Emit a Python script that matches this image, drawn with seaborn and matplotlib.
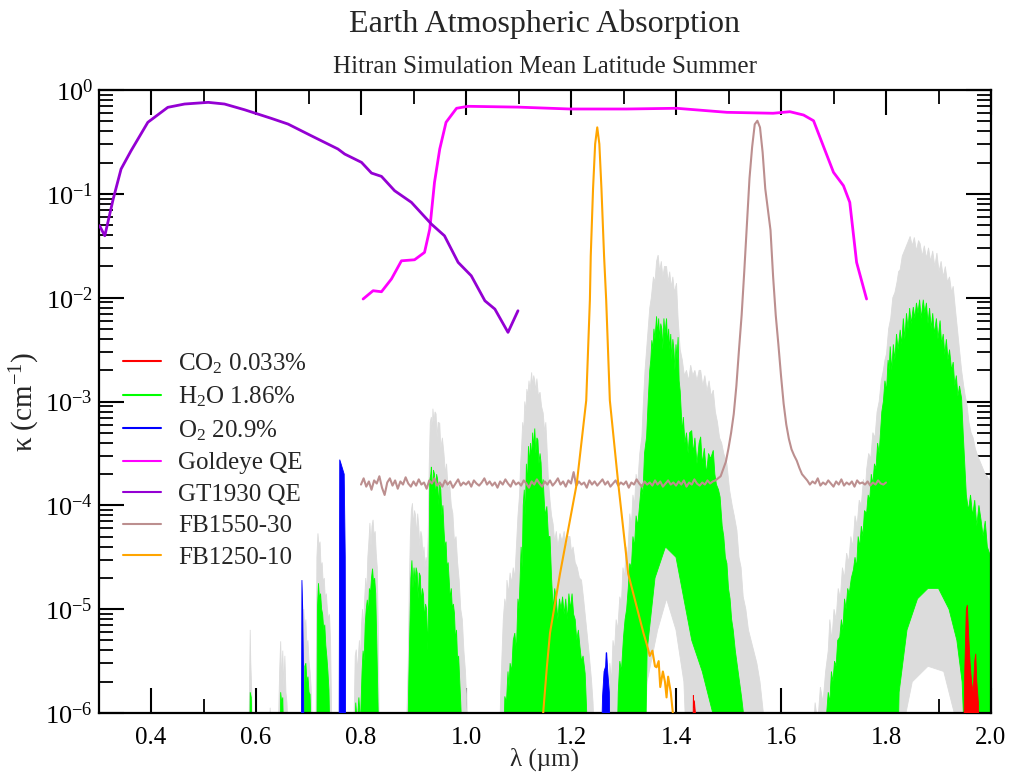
import numpy as np
import matplotlib
matplotlib.use("Agg")
import matplotlib.pyplot as plt
import seaborn as sns
from matplotlib.ticker import (MultipleLocator, LogLocator, FixedLocator, FormatStrFormatter,
                               NullFormatter, LogFormatterSciNotation)
from matplotlib.lines import Line2D

# ---------------- data (log10 of kappa) ----------------
# GT1930 QE
gt_x = [0.302, 0.312, 0.328, 0.343, 0.362, 0.394, 0.432, 0.464, 0.509, 0.540, 0.578, 0.629, 0.661,
        0.705, 0.756, 0.769, 0.801, 0.820, 0.839, 0.864, 0.896, 0.934, 0.959, 0.985, 1.010, 1.036,
        1.055, 1.080, 1.099]
gt_log = [-1.307, -1.404, -1.05, -0.761, -0.585, -0.311, -0.167, -0.135, -0.119, -0.135, -0.19, -0.273,
          -0.328, -0.44, -0.568, -0.617, -0.697, -0.80, -0.832, -0.97, -1.082, -1.291, -1.404, -1.66,
          -1.789, -2.03, -2.11, -2.334, -2.126]

# Goldeye QE
gold_x = [0.804, 0.823, 0.839, 0.858, 0.877, 0.902, 0.921, 0.931, 0.940, 0.950, 0.962, 0.982, 1.004,
          1.100, 1.198, 1.306, 1.401, 1.497, 1.585, 1.617, 1.643, 1.662, 1.700, 1.719, 1.731, 1.744, 1.763]
gold_log = [-2.013, -1.933, -1.943, -1.82, -1.645, -1.635, -1.564, -1.339, -0.889, -0.568, -0.311, -0.176,
            -0.157, -0.165, -0.183, -0.183, -0.176, -0.215, -0.224, -0.209, -0.241, -0.296, -0.793,
            -0.922, -1.082, -1.66, -2.013]

# FB1250-10
fb1250_x = [1.147, 1.154, 1.160, 1.179, 1.211, 1.229, 1.236, 1.2376, 1.242, 1.246, 1.250, 1.254, 1.258,
            1.263, 1.267, 1.274, 1.290, 1.309, 1.338, 1.345, 1.350, 1.355, 1.360, 1.363, 1.367, 1.370,
            1.375, 1.379, 1.382, 1.385, 1.390, 1.394]
fb1250_log = [-6.0, -5.56, -5.23, -4.66, -3.79, -2.99, -2.02, -1.6, -0.95, -0.52, -0.36, -0.52, -0.95,
              -1.6, -2.02, -2.99, -3.79, -4.66, -5.23, -5.35, -5.45, -5.40, -5.55, -5.56, -5.50, -5.75,
              -5.6, -5.7, -5.85, -5.65, -5.8, -6.0]

# FB1550-30 (sampled every 0.005 um from 0.800 to 1.800)
fb1550_start, fb1550_stop, fb1550_step = 0.800, 1.800, 0.005
fb1550_log = [
    -3.80, -3.74, -3.82, -3.77, -3.85, -3.76, -3.79, -3.72, -3.83, -3.90,
    -3.78, -3.74, -3.81, -3.76, -3.84, -3.77, -3.80, -3.73, -3.79, -3.82,
    -3.77, -3.81, -3.75, -3.80, -3.78, -3.84, -3.76, -3.79, -3.74, -3.81,
    -3.78, -3.82, -3.76, -3.80, -3.77, -3.83, -3.79, -3.75, -3.81, -3.78,
    -3.80, -3.77, -3.82, -3.76, -3.79, -3.81, -3.78, -3.74, -3.80, -3.77,
    -3.81, -3.78, -3.83, -3.77, -3.80, -3.75, -3.79, -3.82, -3.76, -3.80,
    -3.78, -3.81, -3.76, -3.79, -3.83, -3.77, -3.80, -3.75, -3.79, -3.82,
    -3.77, -3.80, -3.76, -3.81, -3.78, -3.74, -3.80, -3.77, -3.82, -3.76,
    -3.79, -3.68, -3.81, -3.77, -3.80, -3.78, -3.83, -3.76, -3.80, -3.77,
    -3.81, -3.78, -3.75, -3.80, -3.77, -3.82, -3.79, -3.76, -3.81, -3.78,
    -3.80, -3.77, -3.83, -3.78, -3.80, -3.75, -3.79, -3.82, -3.77, -3.80,
    -3.78, -3.81, -3.76, -3.80, -3.77, -3.82, -3.79, -3.76, -3.80, -3.78,
    -3.81, -3.77, -3.80, -3.76, -3.82, -3.78, -3.80, -3.75, -3.79, -3.81,
    -3.78, -3.80, -3.76, -3.79, -3.77, -3.76, -3.74,
    -3.72, -3.65, -3.58, -3.45, -3.30, -3.12, -2.85, -2.50, -2.17, -1.75,
    -1.30, -0.85, -0.55, -0.33, -0.296, -0.36, -0.60, -0.95, -1.15, -1.35,
    -1.80, -2.17, -2.45, -2.75, -3.02, -3.22, -3.36, -3.46, -3.52, -3.57,
    -3.64, -3.70, -3.73,
    -3.76, -3.80, -3.77, -3.79, -3.74, -3.81, -3.78, -3.80, -3.76, -3.79,
    -3.82, -3.77, -3.80, -3.75, -3.81, -3.78, -3.80, -3.77, -3.82, -3.76,
    -3.79, -3.78, -3.80, -3.77, -3.81, -3.78, -3.80, -3.76, -3.79, -3.80, -3.78]

# O2 20.9%
o2_x = [0.686, 0.6875, 0.689, 0.6905, 0.692, None,
        0.758, 0.7595, 0.762, 0.765, 0.768, 0.770, 0.771, None,
        1.255, 1.260, 1.263, 1.266, 1.267, 1.268, 1.270, 1.273, 1.276]
o2_log = [-7, -4.72, -5.0, -5.6, -7, None,
          -7, -3.56, -3.6, -3.65, -3.7, -4.5, -7, None,
          -7, -5.85, -5.6, -5.55, -5.42, -5.42, -5.6, -5.8, -7]

# CO2 0.033%
co2_x = [1.431, 1.433, 1.434, 1.435, 1.437, 1.439, None,
         1.946, 1.950, 1.953, 1.955, 1.957, 1.960, 1.963, 1.966, 1.969, 1.971, 1.973, 1.976, 1.979]
co2_log = [-7, -5.83, -5.95, -5.88, -6.0, -7, None,
           -7, -5.6, -5.0, -4.96, -5.2, -5.5, -5.7, -5.8, -5.5, -5.43, -5.7, -5.9, -7]

# H2O 1.86% bands: upper edge (x, log) and lower edge (x, log)
h2o_A_x = [0.588, 0.589, 0.591, 0.593]
h2o_A_log = [-6.3, -5.8, -5.85, -6.3]
h2o_B_x = [0.646, 0.647, 0.649, 0.651, 0.653]
h2o_B_log = [-6.3, -5.8, -5.9, -5.85, -6.3]
h2o_C_x = [0.691, 0.693, 0.695, 0.697, 0.699, 0.701, 0.703, 0.706]
h2o_C_log = [-6.3, -5.55, -5.52, -5.7, -5.65, -5.8, -5.82, -6.3]
h2o_D_x = [0.716, 0.717, 0.719, 0.721, 0.723, 0.725, 0.727, 0.729, 0.731, 0.733, 0.735, 0.737, 0.739, 0.741]
h2o_D_log = [-6.3, -5.0, -4.75, -4.9, -4.85, -5.0, -5.05, -5.2, -5.15, -5.35, -5.46, -5.6, -5.78, -6.3]
h2o_E_x = [0.788, 0.790, 0.793, 0.796, 0.799, 0.802, 0.804, 0.806, 0.808, 0.810, 0.812, 0.814, 0.816,
           0.818, 0.820, 0.822, 0.824, 0.826, 0.828, 0.830, 0.832, 0.834]
h2o_E_log = [-6.3, -5.9, -6.1, -5.85, -6.1, -5.6, -5.4, -5.5, -5.15, -5.0, -4.91, -5.05, -4.8,
             -4.85, -4.7, -4.61, -4.75, -4.7, -4.85, -5.3, -5.8, -6.3]
h2o_F_x = [0.889, 0.891, 0.893, 0.895, 0.897, 0.899, 0.901, 0.903, 0.905, 0.907, 0.909, 0.911, 0.913,
           0.915, 0.917, 0.919, 0.921, 0.923, 0.925, 0.927, 0.929, 0.931, 0.933, 0.934, 0.936, 0.938,
           0.940, 0.942, 0.944, 0.946, 0.948, 0.950, 0.952, 0.954, 0.956, 0.958, 0.960, 0.962, 0.964,
           0.966, 0.968, 0.970, 0.972, 0.974, 0.976, 0.978, 0.980, 0.982, 0.984, 0.986, 0.988, 0.990, 0.993]
h2o_F_log = [-6.3, -5.7, -5.2, -4.7, -4.53, -4.8, -4.6, -4.75, -4.6, -4.65, -4.9, -4.65, -4.68,
             -4.95, -4.8, -4.86, -5.1, -4.95, -5.0, -5.4, -4.9, -3.76, -3.7, -3.63, -3.9, -3.66,
             -3.7, -3.95, -3.7, -3.75, -4.0, -3.8, -3.85, -4.1, -4.0, -4.23, -4.4, -4.35, -4.6,
             -4.55, -4.72, -4.9, -4.8, -5.0, -4.95, -5.04, -5.3, -5.2, -5.5, -5.45, -5.68, -5.9, -6.3]
h2o_G_x = [1.072, 1.074, 1.077, 1.080, 1.082, 1.084, 1.087, 1.090, 1.093, 1.096, 1.099, 1.101, 1.103,
           1.105, 1.107, 1.109, 1.111, 1.113, 1.115, 1.117, 1.119, 1.121, 1.123, 1.125, 1.127, 1.129,
           1.131, 1.133, 1.135, 1.137, 1.139, 1.141, 1.143, 1.145, 1.147, 1.149, 1.151, 1.154, 1.157,
           1.160, 1.163, 1.166, 1.169, 1.172, 1.175, 1.178, 1.181, 1.184, 1.187, 1.190, 1.193, 1.196,
           1.199, 1.202, 1.205, 1.208, 1.211, 1.214, 1.217, 1.220, 1.223, 1.227, 1.230, 1.233]
h2o_G_log = [-6.3, -5.84, -5.9, -5.6, -5.75, -5.52, -5.6, -5.3, -5.23, -5.4, -4.9, -5.0, -4.72,
             -4.4, -4.6, -4.0, -3.85, -4.1, -3.6, -3.8, -3.43, -3.6, -3.4, -3.55, -3.3, -3.45,
             -3.26, -3.5, -3.35, -3.37, -3.6, -3.5, -3.59, -3.85, -3.75, -3.95, -4.1, -4.01, -4.3,
             -4.3, -4.7, -5.0, -4.8, -4.91, -5.1, -4.9, -5.0, -4.88, -5.05, -4.9, -5.1, -4.85,
             -5.0, -4.85, -5.05, -5.1, -5.3, -5.2, -5.36, -5.5, -5.45, -5.62, -6.0, -6.3]
h2o_H_x = [1.288, 1.290, 1.293, 1.296, 1.300, 1.303, 1.306, 1.309, 1.312, 1.315, 1.318, 1.321, 1.324,
           1.327, 1.331, 1.334, 1.337, 1.340, 1.344, 1.347, 1.350, 1.352, 1.354, 1.356, 1.358, 1.360,
           1.363, 1.365, 1.367, 1.369, 1.371, 1.373, 1.375, 1.377, 1.379, 1.382, 1.384, 1.386, 1.388,
           1.390, 1.392, 1.394, 1.396, 1.398, 1.400, 1.402, 1.404, 1.406, 1.408, 1.410, 1.412, 1.414,
           1.417, 1.420, 1.423, 1.426, 1.430, 1.433, 1.436, 1.440, 1.444, 1.447, 1.450, 1.454, 1.458,
           1.462, 1.466, 1.471, 1.474, 1.477, 1.481, 1.484, 1.488, 1.491, 1.494, 1.497, 1.500, 1.503,
           1.506, 1.509, 1.513, 1.517, 1.521, 1.525, 1.528, 1.531]
h2o_H_log = [-6.3, -5.8, -5.5, -5.6, -5.27, -5.1, -5.0, -4.8, -4.56, -4.6, -4.3, -4.4, -4.1,
             -4.2, -3.98, -3.8, -3.9, -3.5, -3.34, -3.0, -2.7, -2.6, -2.41, -2.5, -2.3, -2.4,
             -2.18, -2.35, -2.2, -2.4, -2.25, -2.3, -2.5, -2.2, -2.35, -2.2, -2.45, -2.3, -2.5,
             -2.35, -2.6, -2.4, -2.5, -2.7, -2.45, -2.6, -2.38, -2.8, -2.9, -3.1, -3.3, -3.15,
             -3.4, -3.3, -3.5, -3.3, -3.28, -3.5, -3.35, -3.6, -3.4, -3.34, -3.6, -3.45, -3.7,
             -3.5, -3.55, -3.47, -3.7, -3.8, -3.85, -3.92, -4.2, -4.3, -4.5, -4.56, -4.8, -4.9,
             -5.1, -5.2, -5.4, -5.55, -5.7, -5.85, -5.98, -6.3]
h2o_H_low_x = [1.531, 1.480, 1.470, 1.450, 1.430, 1.415, 1.400, 1.380, 1.360, 1.345, 1.340, 1.288]
h2o_H_low_log = [-7, -7, -6.0, -5.6, -5.3, -4.9, -4.5, -4.4, -4.7, -5.4, -7, -7]
h2o_I_x = [1.684, 1.687, 1.690, 1.693, 1.696, 1.699, 1.702, 1.705, 1.708, 1.712, 1.715, 1.718, 1.721,
           1.724, 1.727, 1.730, 1.734, 1.738, 1.741, 1.744, 1.747, 1.750, 1.753, 1.756, 1.759, 1.763,
           1.766, 1.769, 1.772, 1.775, 1.778, 1.781, 1.784, 1.787, 1.789, 1.792, 1.795, 1.798, 1.801,
           1.804, 1.806, 1.808, 1.811, 1.814, 1.817, 1.820, 1.823, 1.827, 1.830, 1.833, 1.836, 1.839,
           1.842, 1.845, 1.848, 1.852, 1.855, 1.858, 1.861, 1.864, 1.867, 1.871, 1.874, 1.877, 1.880,
           1.883, 1.886, 1.889, 1.892, 1.896, 1.899, 1.903, 1.906, 1.909, 1.912, 1.915, 1.918, 1.921,
           1.925, 1.928, 1.931, 1.934, 1.937, 1.940, 1.944, 1.947, 1.950, 1.953, 1.957, 1.961, 1.965,
           1.969, 1.973, 1.977, 1.981, 1.985, 1.989, 1.993, 1.997, 2.000]
h2o_I_log = [-6.3, -6.0, -5.8, -5.9, -5.6, -5.7, -5.5, -5.55, -5.3, -5.27, -5.1, -5.2, -4.9,
             -5.0, -4.8, -4.85, -4.7, -4.62, -4.5, -4.6, -4.3, -4.4, -4.2, -4.3, -4.05, -4.08,
             -3.9, -3.95, -3.7, -3.8, -3.6, -3.65, -3.4, -3.5, -3.34, -3.1, -3.0, -2.8, -2.9,
             -2.6, -2.7, -2.47, -2.7, -2.45, -2.6, -2.35, -2.5, -2.31, -2.45, -2.2, -2.4, -2.15,
             -2.3, -2.1, -2.25, -2.09, -2.2, -2.05, -2.15, -2.02, -2.2, -2.02, -2.15, -2.05, -2.25,
             -2.1, -2.3, -2.15, -2.35, -2.2, -2.4, -2.22, -2.45, -2.35, -2.55, -2.4, -2.6, -2.5,
             -2.7, -2.62, -2.85, -2.75, -2.95, -2.85, -2.97, -3.3, -3.6, -3.9, -4.05, -3.9, -4.1,
             -3.95, -4.2, -4.0, -4.14, -4.3, -4.15, -4.4, -4.46, -4.5]
h2o_I_low_x = [2.000, 1.955, 1.945, 1.935, 1.920, 1.900, 1.880, 1.860, 1.840, 1.825, 1.820, 1.684]
h2o_I_low_log = [-7, -7, -5.7, -5.3, -5.0, -4.8, -4.8, -4.9, -5.2, -5.8, -7, -7]

# grey (total) absorption bands
grey_A_x = [0.586, 0.588, 0.589, 0.590, 0.592, 0.594, 0.625, 0.627, 0.629]
grey_A_log = [-6.5, -5.6, -5.2, -5.5, -5.8, -6.5, -6.5, -5.95, -6.5]
grey_B_x = [0.642, 0.645, 0.647, 0.649, 0.651, 0.653, 0.655, 0.657, 0.659, 0.662]
grey_B_log = [-6.3, -5.6, -5.31, -5.7, -5.4, -5.75, -5.45, -5.8, -5.9, -6.3]
grey_C_x = [0.689, 0.691, 0.693, 0.695, 0.697, 0.699, 0.701, 0.703, 0.705, 0.708]
grey_C_log = [-6.3, -5.0, -5.2, -5.1, -5.35, -5.3, -5.5, -5.6, -5.75, -6.3]
grey_D_x = [0.714, 0.716, 0.718, 0.720, 0.722, 0.724, 0.726, 0.728, 0.730, 0.732, 0.734, 0.736, 0.738,
            0.740, 0.742, 0.745]
grey_D_log = [-6.3, -4.5, -4.27, -4.4, -4.35, -4.6, -4.55, -4.75, -4.7, -4.9, -4.85, -5.0, -5.1,
              -5.05, -5.3, -6.3]
grey_E_x = [0.786, 0.789, 0.791, 0.793, 0.795, 0.797, 0.799, 0.801, 0.803, 0.805, 0.807, 0.809, 0.811,
            0.813, 0.815, 0.817, 0.819, 0.821, 0.823, 0.825, 0.827, 0.829, 0.831, 0.833, 0.835]
grey_E_log = [-6.3, -5.45, -5.39, -5.6, -5.45, -5.3, -5.5, -5.15, -5.0, -5.2, -4.9, -4.7, -4.85,
              -4.5, -4.35, -4.17, -4.4, -4.2, -4.14, -4.3, -4.25, -4.46, -4.6, -5.2, -6.3]
grey_F_x = [0.886, 0.888, 0.890, 0.892, 0.894, 0.896, 0.898, 0.900, 0.902, 0.904, 0.906, 0.908, 0.910,
            0.912, 0.914, 0.916, 0.918, 0.920, 0.922, 0.924, 0.926, 0.928, 0.930, 0.932, 0.934, 0.936,
            0.937, 0.939, 0.941, 0.943, 0.945, 0.947, 0.950, 0.952, 0.955, 0.958, 0.961, 0.963, 0.966,
            0.969, 0.972, 0.975, 0.978, 0.981, 0.984, 0.987, 0.990, 0.993, 0.996, 0.999, 1.001, 1.004]
grey_F_log = [-6.3, -5.9, -5.52, -4.8, -4.3, -4.05, -3.98, -4.2, -4.05, -4.1, -4.3, -4.08, -4.2,
              -4.4, -4.25, -4.3, -4.5, -4.4, -4.6, -4.5, -4.6, -4.3, -3.6, -3.2, -3.15, -3.3,
              -3.07, -3.2, -3.1, -3.12, -3.35, -3.2, -3.21, -3.45, -3.35, -3.5, -3.7, -3.6, -3.85,
              -3.8, -4.0, -4.08, -4.35, -4.3, -4.55, -4.72, -5.0, -5.1, -5.4, -5.6, -5.84, -6.3]
grey_G_x = [1.064, 1.066, 1.068, 1.071, 1.074, 1.077, 1.078, 1.081, 1.084, 1.087, 1.090, 1.093, 1.096,
            1.099, 1.102, 1.104, 1.106, 1.108, 1.110, 1.112, 1.114, 1.116, 1.118, 1.120, 1.122, 1.125,
            1.127, 1.129, 1.131, 1.133, 1.135, 1.138, 1.141, 1.144, 1.147, 1.150, 1.152, 1.154, 1.157,
            1.160, 1.163, 1.166, 1.169, 1.172, 1.175, 1.179, 1.183, 1.187, 1.191, 1.195, 1.198, 1.201,
            1.204, 1.208, 1.212, 1.216, 1.220, 1.224, 1.227, 1.230, 1.234, 1.239, 1.242, 1.245]
grey_G_log = [-6.3, -5.8, -5.52, -5.1, -4.9, -5.0, -4.72, -4.85, -4.65, -4.75, -4.6, -4.7, -4.4,
              -4.1, -3.9, -3.6, -3.43, -3.2, -3.3, -3.0, -3.1, -2.88, -2.95, -2.8, -2.9, -2.72,
              -2.85, -2.75, -2.8, -2.9, -2.78, -2.95, -2.91, -3.05, -3.11, -3.3, -3.2, -3.4, -3.76,
              -3.95, -4.1, -4.18, -4.35, -4.25, -4.4, -4.27, -4.35, -4.25, -4.4, -4.3, -4.3, -4.45,
              -4.4, -4.55, -4.6, -4.7, -4.72, -4.9, -5.05, -5.2, -5.4, -5.68, -5.9, -6.3]
grey_H_x = [1.272, 1.274, 1.277, 1.280, 1.283, 1.286, 1.289, 1.293, 1.296, 1.299, 1.302, 1.305, 1.308,
            1.312, 1.315, 1.318, 1.321, 1.324, 1.327, 1.331, 1.335, 1.338, 1.341, 1.344, 1.347, 1.350,
            1.353, 1.357, 1.360, 1.363, 1.366, 1.369, 1.372, 1.375, 1.378, 1.382, 1.385, 1.388, 1.391,
            1.394, 1.397, 1.401, 1.404, 1.408, 1.412, 1.416, 1.420, 1.424, 1.428, 1.432, 1.436, 1.440,
            1.444, 1.447, 1.451, 1.455, 1.459, 1.463, 1.467, 1.471, 1.475, 1.479, 1.483, 1.487, 1.491,
            1.497, 1.502, 1.507, 1.511, 1.516, 1.520, 1.524, 1.528, 1.533, 1.538, 1.543, 1.548, 1.554,
            1.560, 1.566, 1.570]
grey_H_log = [-6.3, -5.52, -5.7, -5.3, -5.4, -5.1, -5.2, -4.88, -4.95, -4.6, -4.7, -4.4, -4.5,
              -4.08, -4.2, -3.9, -4.0, -3.7, -3.8, -3.5, -3.34, -3.0, -2.7, -2.5, -2.3, -2.1,
              -2.0, -1.80, -1.85, -1.65, -1.59, -1.75, -1.65, -1.8, -1.7, -1.7, -1.85, -1.75, -1.9,
              -1.8, -1.95, -1.86, -2.2, -2.5, -2.6, -2.75, -2.70, -2.8, -2.65, -2.75, -2.7, -2.8,
              -2.7, -2.70, -2.85, -2.75, -2.9, -2.8, -2.95, -2.89, -3.1, -3.2, -3.35, -3.4, -3.5,
              -3.6, -3.85, -4.0, -4.1, -4.24, -4.5, -4.6, -4.88, -5.0, -5.2, -5.3, -5.4, -5.52,
              -5.7, -5.98, -6.3]
grey_H_low_x = [1.570, 1.425, 1.415, 1.400, 1.382, 1.365, 1.345, 1.335, 1.272]
grey_H_low_log = [-7, -7, -5.7, -5.2, -4.9, -5.2, -5.7, -7, -7]
grey_I_x = [1.660, 1.665, 1.670, 1.675, 1.680, 1.685, 1.690, 1.693, 1.697, 1.701, 1.705, 1.709, 1.713,
            1.717, 1.721, 1.725, 1.729, 1.733, 1.737, 1.741, 1.745, 1.749, 1.753, 1.757, 1.761, 1.763,
            1.767, 1.771, 1.775, 1.779, 1.783, 1.787, 1.791, 1.795, 1.798, 1.801, 1.805, 1.809, 1.813,
            1.817, 1.821, 1.824, 1.827, 1.831, 1.835, 1.839, 1.843, 1.846, 1.850, 1.854, 1.858, 1.862,
            1.865, 1.869, 1.873, 1.877, 1.881, 1.885, 1.889, 1.893, 1.897, 1.901, 1.905, 1.909, 1.913,
            1.917, 1.921, 1.925, 1.928, 1.932, 1.936, 1.940, 1.944, 1.948, 1.951, 1.954, 1.958, 1.962,
            1.966, 1.970, 1.973, 1.977, 1.981, 1.985, 1.989, 1.993, 1.997, 2.000]
grey_I_log = [-6.3, -5.9, -6.1, -5.75, -5.9, -5.6, -5.4, -5.1, -5.3, -5.0, -5.1, -4.8, -4.9,
              -4.6, -4.7, -4.46, -4.55, -4.3, -4.4, -4.1, -4.2, -3.95, -4.0, -3.75, -3.85, -3.66,
              -3.5, -3.55, -3.3, -3.35, -3.1, -3.0, -2.8, -2.7, -2.6, -2.54, -2.3, -2.2, -2.0,
              -1.95, -1.85, -1.75, -1.73, -1.6, -1.55, -1.5, -1.45, -1.41, -1.5, -1.42, -1.55, -1.45,
              -1.48, -1.6, -1.5, -1.62, -1.52, -1.65, -1.55, -1.7, -1.57, -1.75, -1.65, -1.8, -1.7,
              -1.85, -1.8, -1.95, -1.89, -2.1, -2.3, -2.5, -2.7, -2.85, -2.95, -3.02, -3.2, -3.3,
              -3.35, -3.45, -3.5, -3.55, -3.6, -3.65, -3.7, -3.72, -3.76, -3.8]
grey_I_low_x = [2.000, 1.940, 1.930, 1.910, 1.880, 1.850, 1.830, 1.810, 1.660]
grey_I_low_log = [-7, -7, -6.0, -5.6, -5.55, -5.7, -6.2, -7, -7]

y_major_ticks = [1e-6, 1e-5, 1e-4, 1e-3, 1e-2, 1e-1, 1e0]
legend_labels = ["CO$_2$ 0.033%", "H$_2$O 1.86%", "O$_2$ 20.9%", "Goldeye QE", "GT1930 QE",
                 "FB1550-30", "FB1250-10"]
col_co2, col_h2o, col_o2 = "#ff0000", "#00ff00", "#0000ff"
col_gold, col_gt, col_1550, col_1250 = "#ff00ff", "#9400d3", "#bc8f8f", "#ffa500"
col_grey = "#dcdcdc"

# ---------------- style ----------------
sns.set_theme(style="ticks")
plt.rcParams["font.family"] = ["Liberation Serif", "DejaVu Serif"]
plt.rcParams["mathtext.fontset"] = "custom"
plt.rcParams["mathtext.rm"] = "Liberation Serif"
plt.rcParams["mathtext.it"] = "Liberation Serif:italic"
plt.rcParams["mathtext.bf"] = "Liberation Serif:bold"

fig = plt.figure(figsize=(10.1, 7.75), dpi=100)
ax = fig.add_axes([98.5 / 1010, 62 / 775, 892.5 / 1010, 623 / 775])
ax.set_yscale("log")


def lin(v):
    return [np.nan if t is None else 10.0 ** t for t in v]


def band(xu, yu, color, xl=None, yl=None, z=1):
    if xl is None:
        xl = [xu[-1], xu[0]]
        yl = [-7, -7]
    xs = list(xu) + list(xl)
    ys = lin(yu) + lin(yl)
    ax.fill(xs, ys, color=color, lw=0.6, zorder=z)


# grey
band(grey_A_x, grey_A_log, col_grey)
band(grey_B_x, grey_B_log, col_grey)
band(grey_C_x, grey_C_log, col_grey)
band(grey_D_x, grey_D_log, col_grey)
band(grey_E_x, grey_E_log, col_grey)
band(grey_F_x, grey_F_log, col_grey)
band(grey_G_x, grey_G_log, col_grey)
band(grey_H_x, grey_H_log, col_grey, grey_H_low_x, grey_H_low_log)
band(grey_I_x, grey_I_log, col_grey, grey_I_low_x, grey_I_low_log)
# H2O
band(h2o_A_x, h2o_A_log, col_h2o, z=2)
band(h2o_B_x, h2o_B_log, col_h2o, z=2)
band(h2o_C_x, h2o_C_log, col_h2o, z=2)
band(h2o_D_x, h2o_D_log, col_h2o, z=2)
band(h2o_E_x, h2o_E_log, col_h2o, z=2)
band(h2o_F_x, h2o_F_log, col_h2o, z=2)
band(h2o_G_x, h2o_G_log, col_h2o, z=2)
band(h2o_H_x, h2o_H_log, col_h2o, h2o_H_low_x, h2o_H_low_log, z=2)
band(h2o_I_x, h2o_I_log, col_h2o, h2o_I_low_x, h2o_I_low_log, z=2)


# O2 and CO2 spikes (split at None)
def spikes(xv, yv, color):
    seg_x, seg_y = [], []
    for a, b in zip(xv + [None], yv + [None]):
        if a is None:
            if seg_x:
                band(seg_x, seg_y, color, [seg_x[-1], seg_x[0]], [-7, -7], z=3)
            seg_x, seg_y = [], []
        else:
            seg_x.append(a)
            seg_y.append(b)


spikes(o2_x, o2_log, col_o2)
spikes(co2_x, co2_log, col_co2)

fb1550_x = np.round(np.arange(fb1550_start, fb1550_stop + 1e-9, fb1550_step), 3)
sns.lineplot(x=fb1550_x, y=lin(fb1550_log), ax=ax, color=col_1550, lw=1.5, sort=False, estimator=None, zorder=4)
sns.lineplot(x=fb1250_x, y=lin(fb1250_log), ax=ax, color=col_1250, lw=1.5, sort=False, estimator=None, zorder=4)
sns.lineplot(x=gold_x, y=lin(gold_log), ax=ax, color=col_gold, lw=2, sort=False, estimator=None, zorder=5)
sns.lineplot(x=gt_x, y=lin(gt_log), ax=ax, color=col_gt, lw=2, sort=False, estimator=None, zorder=5)

ax.set_xlim(0.3, 2.0)
ax.set_ylim(1e-6, 1.0)
ax.xaxis.set_major_locator(MultipleLocator(0.2))
ax.xaxis.set_minor_locator(MultipleLocator(0.1))
ax.xaxis.set_major_formatter(FormatStrFormatter("%.1f"))
ax.yaxis.set_major_locator(FixedLocator(y_major_ticks))
ax.yaxis.set_minor_locator(LogLocator(base=10, subs=np.arange(2, 10), numticks=20))
ax.yaxis.set_major_formatter(LogFormatterSciNotation())
ax.yaxis.set_minor_formatter(NullFormatter())
ax.tick_params(which="both", direction="in", top=True, right=True, colors="black")
ax.tick_params(axis="y", labelsize=19)
ax.tick_params(axis="x", labelsize=18)
ax.tick_params(which="major", length=18, width=1.5)
ax.tick_params(which="minor", length=10, width=1.3)
ax.tick_params(axis="x", which="major", pad=10)
ax.tick_params(axis="y", which="major", pad=4)
for s in ax.spines.values():
    s.set_linewidth(1.6)
    s.set_color("black")

ax.set_xlabel("λ (µm)", fontsize=18, labelpad=-1)
ax.set_ylabel("κ (cm$^{-1}$)", fontsize=21, labelpad=2)

fig.text(0.5393, 0.969, "Earth Atmospheric Absorption", ha="center", va="center", fontsize=23)
fig.text(0.5393, 0.913, "Hitran Simulation Mean Latitude Summer", ha="center", va="center", fontsize=18)

handles = [Line2D([], [], color=c, lw=1.5) for c in
           [col_co2, col_h2o, col_o2, col_gold, col_gt, col_1550, col_1250]]
ax.legend(handles, legend_labels, loc="upper left", bbox_to_anchor=(0.028, 0.581), frameon=False,
          fontsize=18, handlelength=1.5, handletextpad=0.7, labelspacing=0.36, borderpad=0,
          borderaxespad=0)

fig.savefig("out.png", dpi=100)
